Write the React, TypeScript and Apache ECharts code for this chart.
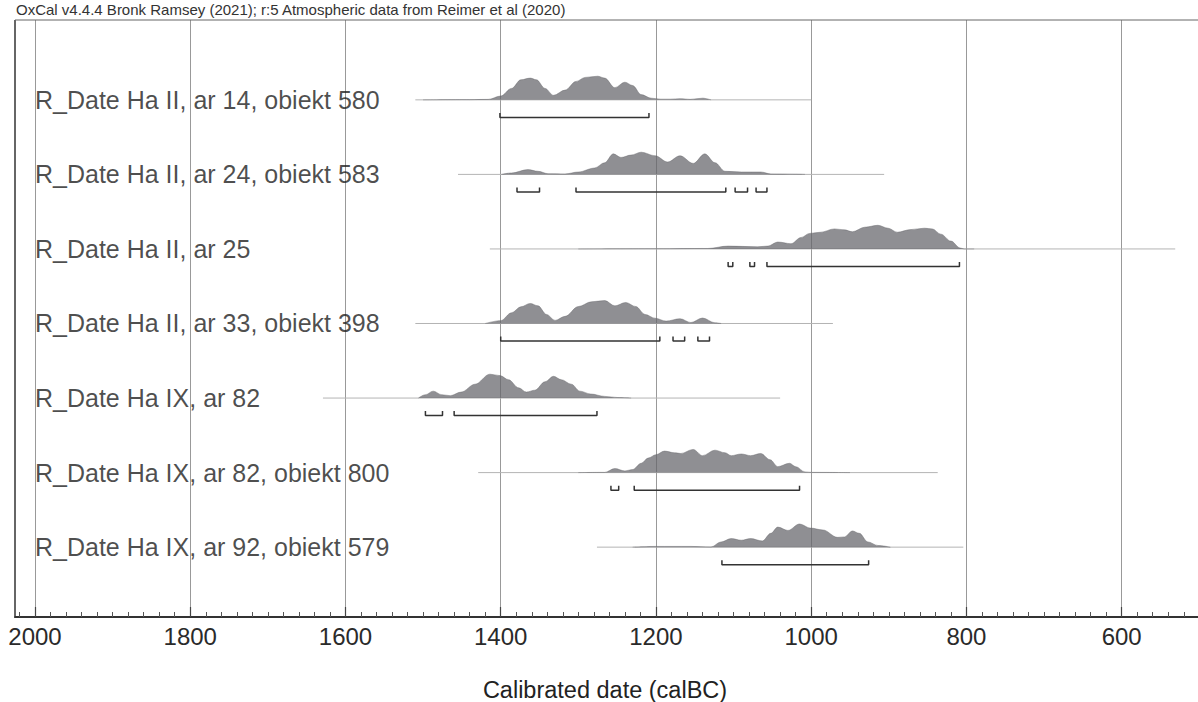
import React, { useEffect, useRef } from "react";
import * as echarts from "echarts";

const FONT = "'Liberation Sans', Arial, Helvetica, sans-serif";

const titleText = "OxCal v4.4.4 Bronk Ramsey (2021); r:5 Atmospheric data from Reimer et al (2020)";
const axisTitle = "Calibrated date (calBC)";

const labels = [
  "R_Date Ha II, ar 14, obiekt 580",
  "R_Date Ha II, ar 24, obiekt 583",
  "R_Date Ha II, ar 25",
  "R_Date Ha II, ar 33, obiekt 398",
  "R_Date Ha IX, ar 82",
  "R_Date Ha IX, ar 82, obiekt 800",
  "R_Date Ha IX, ar 92, obiekt 579",
];

// extent of the thin line drawn under each distribution (cal BC)
const baseStart = [1510, 1455, 1414, 1510, 1629, 1429, 1276];
const baseEnd = [1000, 906, 531, 972, 1040, 837, 804];

// relative probability [year calBC, relative height]
const density1 = [
  [1500, 0], [1440, 0.01], [1416, 0.02], [1400, 0.16], [1386, 0.48], [1374, 0.84], [1362, 0.91],
  [1354, 0.84], [1343, 0.48], [1332, 0.19], [1317, 0.41], [1303, 0.77], [1291, 0.94], [1275, 0.99],
  [1266, 0.91], [1253, 0.51], [1240, 0.74], [1230, 0.6], [1219, 0.22], [1206, 0.07], [1194, 0.03],
  [1181, 0.03], [1169, 0.05], [1156, 0.02], [1140, 0.07], [1129, 0],
];
const density2 = [
  [1399, 0], [1386, 0.06], [1365, 0.2], [1352, 0.13], [1339, 0.03], [1317, 0.02], [1300, 0.1],
  [1279, 0.27], [1266, 0.49], [1255, 0.86], [1245, 0.71], [1232, 0.81], [1219, 0.93], [1201, 0.78],
  [1185, 0.52], [1169, 0.78], [1152, 0.46], [1137, 0.86], [1124, 0.49], [1111, 0.13], [1090, 0.1],
  [1065, 0.1], [1052, 0.02], [1021, 0.01], [1008, 0],
];
const density3 = [
  [1300, 0], [1200, 0.01], [1133, 0.02], [1107, 0.12], [1069, 0.09], [1056, 0.12], [1043, 0.29],
  [1026, 0.22], [1013, 0.48], [1002, 0.65], [988, 0.7], [970, 0.84], [957, 0.8], [947, 0.72],
  [931, 0.91], [914, 0.99], [901, 0.87], [889, 0.7], [872, 0.81], [854, 0.87], [844, 0.84],
  [833, 0.62], [820, 0.33], [808, 0.04], [803, 0], [790, 0],
];
const density4 = [
  [1420, 0], [1400, 0.12], [1386, 0.45], [1374, 0.7], [1362, 0.84], [1352, 0.74], [1341, 0.38],
  [1330, 0.13], [1317, 0.3], [1300, 0.71], [1283, 0.91], [1266, 0.96], [1253, 0.74], [1239, 0.88],
  [1226, 0.71], [1214, 0.38], [1201, 0.22], [1187, 0.1], [1169, 0.2], [1155, 0.04], [1140, 0.23],
  [1124, 0.03], [1116, 0],
];
const density5 = [
  [1506, 0], [1497, 0.14], [1487, 0.29], [1476, 0.14], [1465, 0.1], [1451, 0.25], [1433, 0.58],
  [1414, 1.0], [1401, 0.94], [1390, 0.77], [1377, 0.43], [1367, 0.25], [1356, 0.33], [1343, 0.68],
  [1332, 0.91], [1322, 0.77], [1309, 0.58], [1298, 0.29], [1284, 0.17], [1266, 0.07], [1249, 0.02],
  [1232, 0],
];
const density6 = [
  [1300, 0], [1266, 0.01], [1253, 0.17], [1240, 0.07], [1230, 0.13], [1219, 0.39], [1210, 0.61],
  [1200, 0.75], [1189, 0.9], [1176, 0.83], [1168, 0.8], [1152, 0.97], [1140, 0.71], [1124, 0.94],
  [1111, 0.83], [1103, 0.71], [1090, 0.78], [1078, 0.71], [1065, 0.8], [1053, 0.54], [1043, 0.25],
  [1028, 0.39], [1020, 0.25], [1008, 0.03], [1000, 0.01], [950, 0],
];
const density7 = [
  [1230, 0], [1201, 0.03], [1155, 0.03], [1129, 0.01], [1116, 0.22], [1103, 0.36], [1090, 0.29],
  [1078, 0.36], [1063, 0.26], [1052, 0.58], [1043, 0.84], [1030, 0.7], [1015, 0.97], [1001, 0.8],
  [985, 0.72], [966, 0.41], [957, 0.43], [947, 0.68], [938, 0.58], [927, 0.22], [914, 0.07], [898, 0],
];

// highest probability density ranges (cal BC)
const ranges1 = [[1401, 1209]];
const ranges2 = [[1379, 1350], [1303, 1110], [1098, 1082], [1071, 1057]];
const ranges3 = [[1107, 1101], [1079, 1073], [1057, 809]];
const ranges4 = [[1400, 1195], [1178, 1163], [1146, 1131]];
const ranges5 = [[1497, 1475], [1460, 1276]];
const ranges6 = [[1258, 1248], [1228, 1015]];
const ranges7 = [[1115, 926]];

const densities = [density1, density2, density3, density4, density5, density6, density7];
const ranges = [ranges1, ranges2, ranges3, ranges4, ranges5, ranges6, ranges7];

export default function App() {
  const ref = useRef<HTMLDivElement>(null);

  useEffect(() => {
    document.body.style.margin = "0";
    if (!ref.current) return;
    const chart = echarts.init(ref.current, undefined, { renderer: "svg" });

    const AMP = 0.32;
    const BR = 0.235;
    const TK = 0.06;
    const fill = "rgba(100,100,106,0.72)";

    const series: any[] = [];
    labels.forEach((name, i) => {
      const base = 6.93 - i * 0.999;
      series.push({
        type: "line",
        data: [[baseStart[i], base], [baseEnd[i], base]],
        symbol: "none",
        silent: true,
        lineStyle: { color: "#b4b4b4", width: 1 },
        z: 2,
      });
      series.push({
        type: "line",
        data: densities[i].map(([x, v]) => [x, base + AMP * v]),
        symbol: "none",
        silent: true,
        smooth: 0.35,
        smoothMonotone: "x",
        lineStyle: { color: fill, width: 0.6 },
        areaStyle: { color: fill, opacity: 1, origin: base },
        z: 3,
      });
      const yb = base - BR;
      ranges[i].forEach(([s, e]) => {
        series.push({
          type: "line",
          data: [[s, yb + TK], [s, yb], [e, yb], [e, yb + TK]],
          symbol: "none",
          silent: true,
          lineStyle: { color: "#333", width: 1.5 },
          z: 4,
        });
      });
      series.push({
        type: "scatter",
        data: [[2000, base]],
        symbolSize: 0,
        silent: true,
        label: {
          show: true,
          position: "right",
          distance: 0,
          formatter: name,
          fontSize: 25,
          color: "#1e1e1e",
          fontFamily: FONT,
        },
        z: 5,
      });
    });

    chart.setOption({
      animation: false,
      backgroundColor: "#fff",
      tooltip: { show: false },
      grid: {
        left: -120.24,
        right: -78.9,
        top: 20,
        bottom: 85,
        show: false,
        outerBoundsMode: "none",
      },
      xAxis: {
        type: "value",
        min: 400,
        max: 2200,
        interval: 200,
        inverse: true,
        position: "bottom",
        axisLine: { show: true, onZero: false, lineStyle: { color: "#333", width: 2 } },
        axisTick: { show: true, inside: true, length: 10, lineStyle: { color: "#444", width: 1.2 } },
        minorTick: { show: true, splitNumber: 10, length: 5, lineStyle: { color: "#555", width: 1 } },
        axisLabel: {
          fontSize: 24,
          color: "#2a2a2a",
          margin: 7,
          fontFamily: FONT,
          showMinLabel: false,
          showMaxLabel: false,
          formatter: (v: number) => (v < 600 || v > 2000 ? "" : String(v)),
        },
        splitLine: { show: true, lineStyle: { color: "#999", width: 1 } },
      },
      yAxis: { type: "value", min: 0, max: 8, show: false },
      series,
      graphic: [
        { type: "rect", shape: { x: 0, y: 0, width: 14.5, height: 621 }, style: { fill: "#fff" }, z: 100, silent: true },
        { type: "line", shape: { x1: 15, y1: 20, x2: 15, y2: 618 }, style: { stroke: "#333", lineWidth: 1.5 }, z: 101, silent: true },
        { type: "line", shape: { x1: 15, y1: 20, x2: 1198, y2: 20 }, style: { stroke: "#666", lineWidth: 1 }, z: 101, silent: true },
        {
          type: "text",
          x: 16,
          y: 9,
          z: 101,
          style: { text: titleText, fontSize: 15, fill: "#333", fontFamily: FONT, verticalAlign: "middle", align: "left" },
        },
        {
          type: "text",
          x: 605,
          y: 690,
          z: 101,
          style: { text: axisTitle, fontSize: 23.5, fill: "#222", fontFamily: FONT, verticalAlign: "middle", align: "center" },
        },
      ],
    });

    return () => chart.dispose();
  }, []);

  return (
    <div
      ref={ref}
      style={{ position: "relative", width: 1198, height: 702, background: "#fff" }}
    />
  );
}
